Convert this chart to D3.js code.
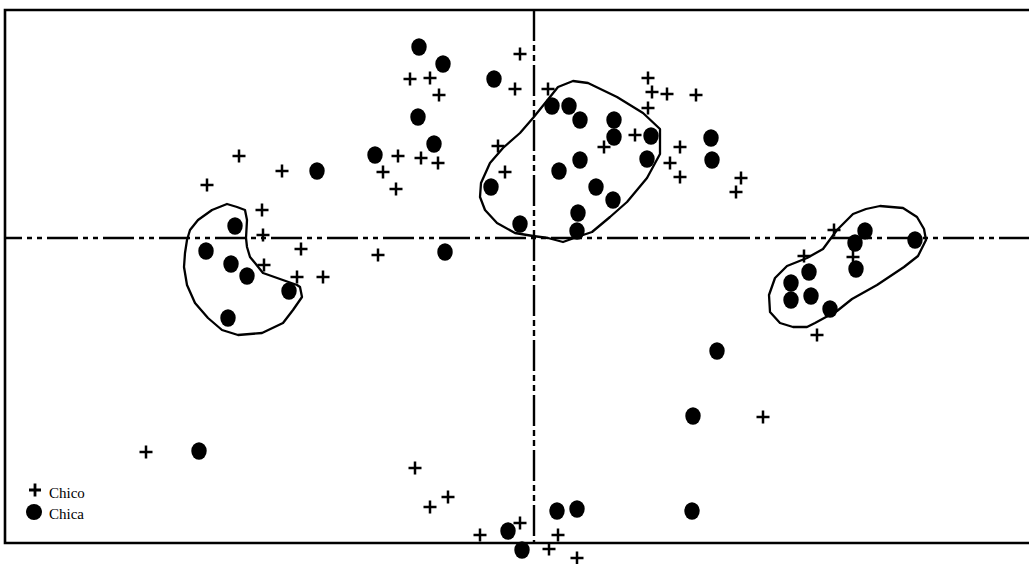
<!DOCTYPE html>
<html>
<head>
<meta charset="utf-8">
<script src="https://cdn.jsdelivr.net/npm/d3@7"></script>
<style>
  html, body { margin: 0; padding: 0; background: #fff; }
  svg { display: block; }
</style>
</head>
<body>
<script>
// ---- data (arbitrary factorial-plane units) ----
const chico = [
  [-0.14,1.84],[-1.24,1.59],[-1.04,1.60],[-0.95,1.43],[-0.19,1.49],[0.14,1.49],
  [1.14,1.60],[1.18,1.46],[1.33,1.44],[1.62,1.43],[1.14,1.30],[1.01,1.03],
  [0.70,0.91],[1.46,0.91],[1.36,0.75],[1.46,0.61],[2.07,0.60],[2.02,0.46],
  [-2.95,0.82],[-2.52,0.67],[-3.27,0.53],[-1.36,0.82],[-1.13,0.80],[-0.96,0.75],
  [-1.51,0.66],[-1.38,0.49],[-0.36,0.92],[-0.29,0.66],[-2.72,0.28],[-2.71,0.03],
  [-2.33,-0.11],[-1.56,-0.17],[-2.70,-0.27],[-2.37,-0.39],[-2.11,-0.39],
  [3.00,0.08],[2.70,-0.18],[3.19,-0.19],[2.83,-0.97],[2.29,-1.79],
  [-3.88,-2.14],[-1.19,-2.30],[-1.04,-2.69],[-0.86,-2.59],[-0.54,-2.97],
  [-0.14,-2.85],[0.15,-3.11],[0.24,-2.97],[0.43,-3.20]
];
const chica = [
  [-1.15,1.91],[-0.91,1.74],[-0.40,1.59],[-1.16,1.21],[-1.00,0.94],[-1.59,0.83],
  [-2.17,0.67],[-2.99,0.12],[-3.28,-0.13],[-3.03,-0.26],[-2.87,-0.38],[-2.45,-0.53],
  [-3.06,-0.80],[-0.89,-0.14],[-0.43,0.51],[-0.14,0.14],[0.18,1.32],[0.35,1.32],
  [0.46,1.18],[0.80,1.18],[0.80,1.01],[1.17,1.02],[1.13,0.79],[1.77,1.00],
  [1.78,0.78],[0.46,0.78],[0.25,0.67],[0.62,0.51],[0.79,0.38],[0.44,0.25],
  [0.43,0.07],[3.31,0.07],[3.21,-0.05],[3.81,-0.02],[2.57,-0.45],[2.75,-0.34],
  [2.57,-0.62],[2.77,-0.58],[2.96,-0.71],[3.22,-0.31],[1.83,-1.13],[1.59,-1.78],
  [-3.35,-2.13],[-0.26,-2.93],[-0.12,-3.12],[0.23,-2.73],[0.43,-2.71],[1.58,-2.73]
];
const hullLeft = [
  [-3.07,0.34],[-2.97,0.31],[-2.89,0.28],[-2.87,0.18],[-2.88,0.00],[-2.87,-0.09],
  [-2.84,-0.19],[-2.79,-0.25],[-2.71,-0.35],[-2.37,-0.47],[-2.34,-0.49],[-2.32,-0.59],
  [-2.41,-0.72],[-2.51,-0.85],[-2.72,-0.95],[-2.96,-0.97],[-3.12,-0.92],[-3.26,-0.80],
  [-3.39,-0.65],[-3.47,-0.47],[-3.50,-0.29],[-3.49,-0.15],[-3.47,-0.02],[-3.44,0.08],
  [-3.36,0.18],[-3.22,0.28]
];
const hullCenter = [
  [0.39,1.57],[0.54,1.55],[0.83,1.41],[1.09,1.25],[1.26,1.09],[1.26,0.84],
  [1.13,0.60],[0.93,0.36],[0.76,0.21],[0.58,0.06],[0.43,0.01],[0.29,-0.04],
  [0.14,0.00],[-0.01,0.02],[-0.19,0.05],[-0.37,0.15],[-0.49,0.28],[-0.54,0.41],
  [-0.53,0.55],[-0.44,0.75],[-0.31,0.90],[-0.14,1.05],[-0.01,1.20],[0.16,1.41],
  [0.24,1.51]
];
const hullRight = [
  [3.19,0.24],[3.32,0.29],[3.46,0.32],[3.69,0.30],[3.83,0.21],[3.90,0.09],
  [3.92,-0.02],[3.84,-0.18],[3.70,-0.29],[3.43,-0.47],[3.18,-0.61],[3.03,-0.73],
  [2.81,-0.85],[2.73,-0.89],[2.59,-0.89],[2.46,-0.85],[2.36,-0.74],[2.35,-0.57],
  [2.41,-0.40],[2.53,-0.28],[2.73,-0.20],[2.89,-0.11],[3.03,0.08]
];
const legendLabels = ["Chico", "Chica"];

// ---- layout ----
const W = 1029, H = 564;
const svg = d3.select("body").append("svg").attr("width", W).attr("height", H)
  .style("background", "#fff");

const x = d3.scaleLinear().domain([-5.29, 4.95]).range([5, 1029]);
const y = d3.scaleLinear().domain([2.28, -3.05]).range([10, 543]);

// frame (left, top, bottom)
const fx0 = x.range()[0], fx1 = x.range()[1];
const fy0 = y.range()[0], fy1 = y.range()[1];
svg.append("path")
  .attr("d", `M${fx1},${fy0}H${fx0}V${fy1}H${fx1}`)
  .attr("fill", "none").attr("stroke", "#000").attr("stroke-width", 2.6);

// dash-dot reference axes
svg.append("line")
  .attr("x1", fx0).attr("x2", fx1).attr("y1", y(0)).attr("y2", y(0))
  .attr("stroke", "#000").attr("stroke-width", 2.4)
  .attr("stroke-dasharray", "31,5,5,5,5,5").attr("stroke-dashoffset", 14);
svg.append("line")
  .attr("x1", x(0)).attr("x2", x(0)).attr("y1", fy0).attr("y2", fy1)
  .attr("stroke", "#000").attr("stroke-width", 2.4)
  .attr("stroke-dasharray", "31,4,6,4,6,4").attr("stroke-dashoffset", 0);

// hulls
const line = d3.line().x(d => x(d[0])).y(d => y(d[1])).curve(d3.curveLinearClosed);
svg.selectAll("path.hull").data([hullLeft, hullCenter, hullRight]).join("path")
  .attr("class", "hull").attr("d", line)
  .attr("fill", "none").attr("stroke", "#000").attr("stroke-width", 2.3)
  .attr("stroke-linejoin", "round");

// Chica (filled ellipses)
svg.selectAll("ellipse.chica").data(chica).join("ellipse")
  .attr("class", "chica")
  .attr("cx", d => x(d[0])).attr("cy", d => y(d[1]))
  .attr("rx", 7.7).attr("ry", 8.7).attr("fill", "#000");

// Chico (plus markers)
const plusPath = "M-6.5,0H6.5M0,-6.5V6.5";
svg.selectAll("path.chico").data(chico).join("path")
  .attr("class", "chico")
  .attr("transform", d => `translate(${x(d[0])},${y(d[1])})`)
  .attr("d", plusPath).attr("stroke", "#000").attr("stroke-width", 2.5).attr("fill", "none");

// legend
const lg = svg.append("g");
lg.append("path").attr("transform", "translate(35,490)")
  .attr("d", "M-6,0H6M0,-6.5V6.5").attr("stroke", "#000").attr("stroke-width", 2.8);
lg.append("circle").attr("cx", 34).attr("cy", 512).attr("r", 8).attr("fill", "#000");
lg.selectAll("text").data(legendLabels).join("text")
  .attr("x", 49).attr("y", (d, i) => 498 + i * 21)
  .attr("font-family", "'Liberation Serif', 'Times New Roman', serif")
  .attr("font-size", 15).attr("fill", "#000")
  .text(d => d);
</script>
</body>
</html>
